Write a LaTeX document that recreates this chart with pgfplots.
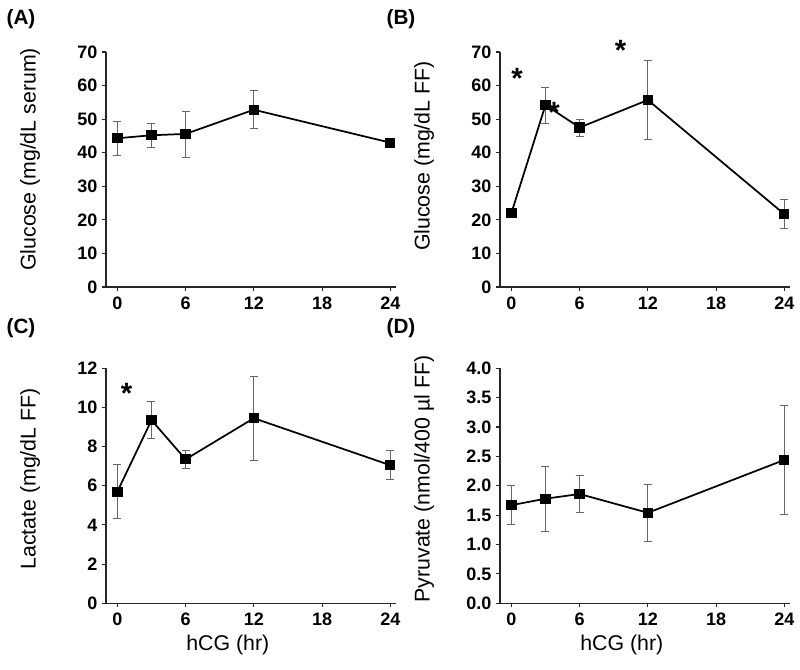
\documentclass[border=0pt]{standalone}
\usepackage{fontspec}
\setmainfont{Liberation Sans}
\usepackage{pgfplots}
\pgfplotsset{compat=1.18}
\pgfplotsset{
 panel/.style={
  scale only axis, width=217.5pt, height=176.25pt,
  xmin=-1, xmax=24.5, ymin=0,
  axis x line*=bottom, axis y line*=left,
  axis line style={-, line width=0.8pt, black!85},
  xtick={0,6,12,18,24},
  tick align=outside, major tick length=3pt,
  tick style={line width=0.8pt, black!85},
  /pgf/number format/assume math mode=true,
  ticklabel style={font=\fontsize{13.5}{15}\selectfont\bfseries},
  xticklabel style={yshift=-1pt},
  label style={font=\fontsize{16}{18}\selectfont},
  xlabel style={at={(axis description cs:0.42,-0.178)}, anchor=center},
  clip=false,
 },
 ser/.style={black, line width=1.3pt, mark=square*, mark size=3.2pt, mark options={solid},
  error bars/.cd, y dir=both, y explicit,
  error bar style={black!60, line width=0.6pt},
  error mark options={rotate=90, black!60, line width=0.6pt, mark size=3pt}},
}
\tikzset{astk/.style={font=\fontsize{22}{24}\selectfont\bfseries, yshift=-4pt}}
\begin{document}
\begin{tikzpicture}
\path[use as bounding box] (0,0) rectangle (600pt,501.75pt);
\node[font=\fontsize{15.5}{18}\selectfont\bfseries] at (15.75pt,487.5pt) {(A)};
\node[font=\fontsize{15.5}{18}\selectfont\bfseries] at (300.75pt,487.5pt) {(B)};
\node[font=\fontsize{15.5}{18}\selectfont\bfseries] at (15.75pt,255.75pt) {(C)};
\node[font=\fontsize{15.5}{18}\selectfont\bfseries] at (300.75pt,255.75pt) {(D)};

% (A)
\begin{axis}[panel, at={(79.5pt,286.5pt)}, anchor=south west,
  ymax=70, ytick={0,10,...,70},
  ylabel={Glucose (mg/dL serum)},
  ylabel style={at={(axis description cs:-0.262,0.543)}, anchor=center}]
\addplot+[ser] coordinates {
 (0,44.3) +- (0,5.0)
 (3,45.2) +- (0,3.6)
 (6,45.6) +- (0,6.85)
 (12,52.8) +- (0,5.65)
 (24,43.0) +- (0,1.2)
};
\end{axis}

% (B)
\begin{axis}[panel, at={(375pt,286.5pt)}, anchor=south west,
  ymax=70, ytick={0,10,...,70},
  ylabel={Glucose (mg/dL FF)},
  ylabel style={at={(axis description cs:-0.262,0.557)}, anchor=center}]
\addplot+[ser] coordinates {
 (0,22.0) +- (0,0.5)
 (3,54.2) +- (0,5.35)
 (6,47.5) +- (0,2.5)
 (12,55.7) +- (0,11.75)
 (24,21.7) +- (0,4.3)
};
\node[astk] at (axis cs:0.5,63.8) {*};
\node[astk] at (axis cs:3.75,53.5) {*};
\node[astk] at (axis cs:9.6,72.1) {*};
\end{axis}

% (C)
\begin{axis}[panel, at={(79.5pt,49.3pt)}, anchor=south west,
  ymax=12, ytick={0,2,...,12},
  xlabel={hCG (hr)},
  ylabel={Lactate (mg/dL FF)},
  ylabel style={at={(axis description cs:-0.262,0.529)}, anchor=center}]
\addplot+[ser] coordinates {
 (0,5.7) +- (0,1.38)
 (3,9.35) +- (0,0.95)
 (6,7.35) +- (0,0.47)
 (12,9.45) +- (0,2.15)
 (24,7.05) +- (0,0.75)
};
\node[astk] at (axis cs:0.8,10.98) {*};
\end{axis}

% (D)
\begin{axis}[panel, at={(375pt,49.3pt)}, anchor=south west,
  ymax=4, ytick={0,0.5,...,4},
  yticklabel style={/pgf/number format/.cd, fixed, fixed zerofill, precision=1},
  xlabel={hCG (hr)},
  ylabel={Pyruvate (nmol/400 µl FF)},
  ylabel style={at={(axis description cs:-0.262,0.529)}, anchor=center}]
\addplot+[ser] coordinates {
 (0,1.67) +- (0,0.33)
 (3,1.78) +- (0,0.55)
 (6,1.86) +- (0,0.31)
 (12,1.54) +- (0,0.48)
 (24,2.44) +- (0,0.93)
};
\end{axis}
\end{tikzpicture}
\end{document}
